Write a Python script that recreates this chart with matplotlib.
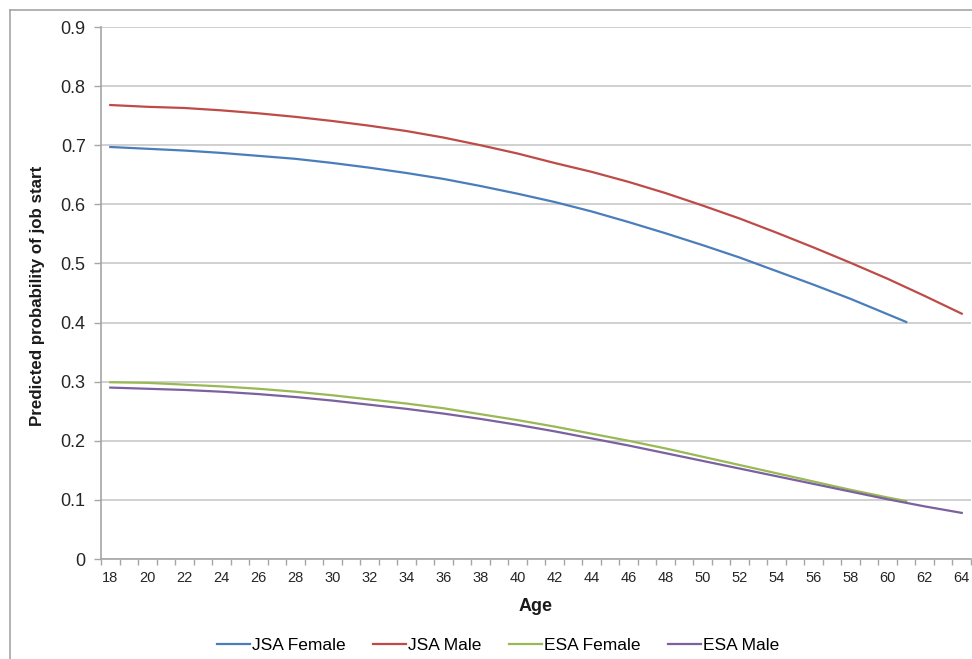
import matplotlib
matplotlib.use("Agg")
import matplotlib.pyplot as plt
from matplotlib.lines import Line2D

plt.rcParams['font.family'] = ['Liberation Sans', 'DejaVu Sans']

ages_even = [18, 20, 22, 24, 26, 28, 30, 32, 34, 36, 38, 40, 42, 44, 46, 48, 50, 52, 54, 56, 58, 60, 62, 64]
ages_f = [18, 20, 22, 24, 26, 28, 30, 32, 34, 36, 38, 40, 42, 44, 46, 48, 50, 52, 54, 56, 58, 60, 61]

jsa_female = [0.697, 0.694, 0.691, 0.687, 0.682, 0.677, 0.670, 0.662, 0.653, 0.643, 0.631, 0.618,
              0.604, 0.588, 0.570, 0.551, 0.531, 0.510, 0.487, 0.464, 0.440, 0.414, 0.401]
jsa_male = [0.768, 0.765, 0.763, 0.759, 0.754, 0.748, 0.741, 0.733, 0.724, 0.713, 0.700, 0.686,
            0.670, 0.655, 0.638, 0.619, 0.598, 0.576, 0.552, 0.527, 0.501, 0.474, 0.445, 0.415]
esa_female = [0.299, 0.298, 0.295, 0.292, 0.288, 0.283, 0.277, 0.270, 0.263, 0.255, 0.245, 0.235,
              0.224, 0.212, 0.200, 0.187, 0.173, 0.159, 0.145, 0.131, 0.117, 0.104, 0.098]
esa_male = [0.290, 0.288, 0.286, 0.283, 0.279, 0.274, 0.268, 0.261, 0.254, 0.246, 0.237, 0.227,
            0.216, 0.204, 0.192, 0.179, 0.166, 0.153, 0.140, 0.127, 0.114, 0.101, 0.089, 0.078]

series_names = ["JSA Female", "JSA Male", "ESA Female", "ESA Male"]
colors = ["#4A7EBB", "#BE4B48", "#98B954", "#7D60A0"]

fig = plt.figure(figsize=(9.72, 6.59), dpi=100)
W, H = 972, 659

# outer chart frame
fig.add_artist(Line2D([10 / W, 10 / W], [1 - 10 / H, 0], transform=fig.transFigure,
                      color="#A6A6A6", lw=1.2))
fig.add_artist(Line2D([10 / W, 1], [1 - 10 / H, 1 - 10 / H], transform=fig.transFigure,
                      color="#A6A6A6", lw=1.2))

ax = fig.add_axes([101 / W, 1 - 559 / H, 870 / W, 532 / H])

lw = 1.6
ax.plot(ages_f, jsa_female, color=colors[0], lw=lw, label=series_names[0])
ax.plot(ages_even, jsa_male, color=colors[1], lw=lw, label=series_names[1])
ax.plot(ages_f, esa_female, color=colors[2], lw=lw, label=series_names[2])
ax.plot(ages_even, esa_male, color=colors[3], lw=lw, label=series_names[3])

ax.set_xlim(17.5, 64.5)
ax.set_ylim(0, 0.9)
ax.set_yticks([0, 0.1, 0.2, 0.3, 0.4, 0.5, 0.6, 0.7, 0.8, 0.9])
ax.set_yticklabels(["0", "0.1", "0.2", "0.3", "0.4", "0.5", "0.6", "0.7", "0.8", "0.9"])
ax.set_xticks(list(range(18, 65, 2)))
ax.set_xticklabels([str(a) for a in range(18, 65, 2)])
ax.set_xticks([a + 0.5 for a in range(17, 65)], minor=True)

ax.tick_params(axis='x', which='major', length=0, labelsize=10.5, pad=9, colors="#262626")
ax.tick_params(axis='x', which='minor', length=4, width=1, color="#A6A6A6", direction='out')
ax.tick_params(axis='y', which='major', length=5, width=1, color="#A6A6A6", labelsize=13,
               pad=6, labelcolor="#262626")

ax.grid(axis='y', color="#D0D0D0", lw=1.4)
ax.set_axisbelow(True)
for s in ['top', 'right']:
    ax.spines[s].set_visible(False)
for s in ['left', 'bottom']:
    ax.spines[s].set_color("#A6A6A6")
    ax.spines[s].set_linewidth(1.2)

ax.set_ylabel("Predicted probability of job start", fontsize=12.2, fontweight='bold',
              color="#1a1a1a")
ax.yaxis.set_label_coords(-56 / 870, (559 - 296) / 532)
ax.set_xlabel("Age", fontsize=13, fontweight='bold', color="#1a1a1a")
ax.xaxis.set_label_coords((536 - 101) / 870, -(598 - 559) / 532)

handles, labels = ax.get_legend_handles_labels()
fig.legend(handles, labels, loc='center', bbox_to_anchor=(498 / W, 1 - 645 / H), ncol=4,
           frameon=False, fontsize=12.5, handlelength=1.9, handletextpad=0.1,
           columnspacing=1.6)

fig.savefig("out.png", dpi=100)
